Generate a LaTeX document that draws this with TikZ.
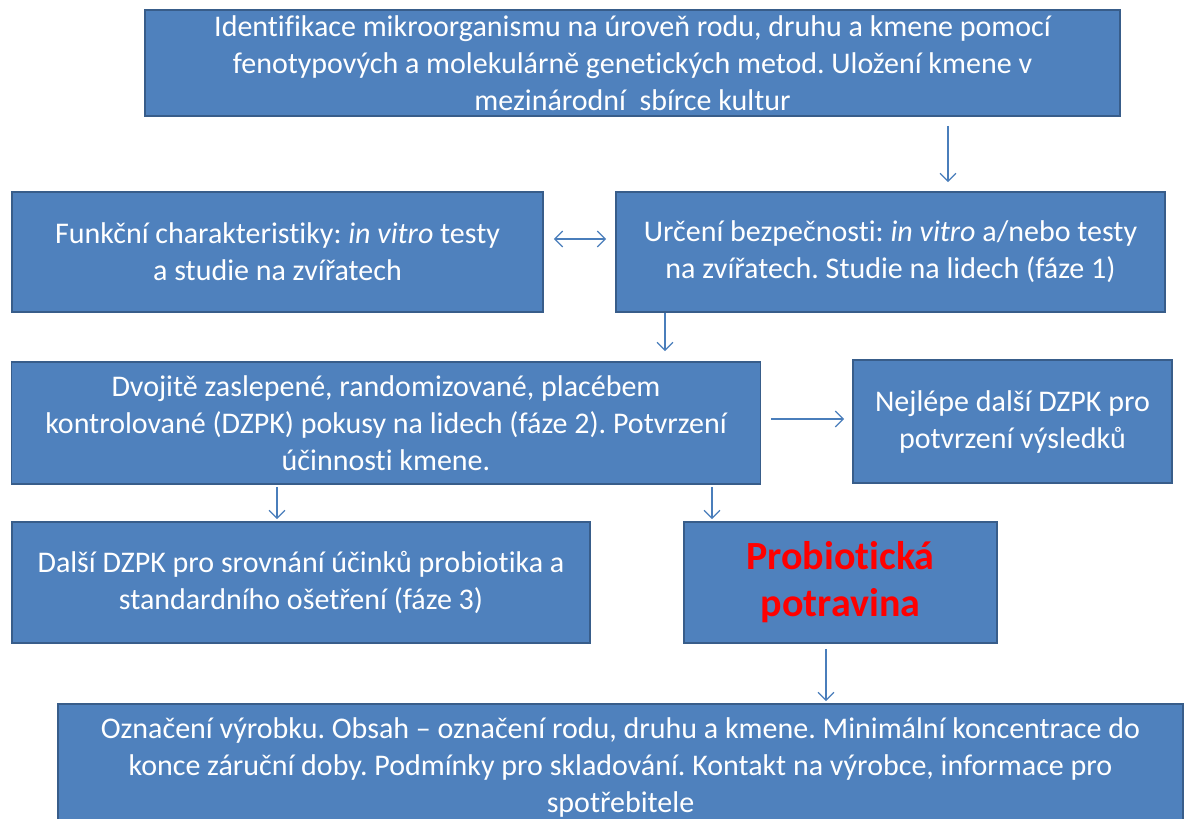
\documentclass[tikz,border=0pt]{standalone}
\usepackage{fontspec}
\setmainfont{Carlito}[Ligatures=NoCommon]
\usetikzlibrary{arrows.meta}
\frenchspacing
\definecolor{boxblue}{HTML}{4F81BD}
\definecolor{boxline}{HTML}{385D8A}
\definecolor{arrblue}{HTML}{4A7EBB}
\definecolor{probred}{HTML}{FF0000}
\tikzset{
  box/.style={draw=boxline,fill=boxblue,line width=1.6pt,text=white,align=center,inner sep=0pt,
    font=\fontsize{30}{37}\selectfont},
  arr/.style={draw=arrblue,line width=1.3pt,-{Straight Barb[length=8pt,width=16pt]}},
  dblarr/.style={draw=arrblue,line width=1.3pt,{Straight Barb[length=8pt,width=16pt]}-{Straight Barb[length=8pt,width=16pt]}}
}
\begin{document}
\begin{tikzpicture}[x=1pt,y=-1pt]
  \useasboundingbox (0,0) rectangle (1187,819);
  \clip (0,0) rectangle (1187,819);

     \path (632.5,63) node[box,minimum width=975,minimum height=106] (1)
       {Identifikace mikroorganismu na úroveň rodu, druhu a kmene pomocí\\
        fenotypových a molekulárně genetických metod. Uložení kmene v\\
        mezinárodní\ \ sbírce kultur};
      \path (277.5,252) node[box,minimum width=531,minimum height=120] (2)
       {Funkční charakteristiky: \emph{in vitro} testy\\ a studie na zvířatech};
      \path (890.5,252) node[box,minimum width=549,minimum height=120] (3)
       {Určení bezpečnosti: \emph{in vitro} a/nebo testy\\ na zvířatech. Studie na lidech (fáze 1)};
      \path (386,423) node[box,minimum width=749,minimum height=122] (4)
       {Dvojitě zaslepené, randomizované, placébem\\
        kontrolované (DZPK) pokusy na lidech (fáze 2). Potvrzení\\
        účinnosti kmene.};
      \path (1012.5,421.5) node[box,minimum width=319,minimum height=123] (5)
       {Nejlépe další DZPK pro\\ potvrzení výsledků};
      \path (301,582.5) node[box,minimum width=578,minimum height=121] (6)
       {Další DZPK pro srovnání účinků probiotika a\\ standardního ošetření (fáze 3)};
      \path (840.5,582.5) node[box,minimum width=313,minimum height=121,text=probred,
        font=\fontsize{40}{47}\selectfont\bfseries] (7)
       {Probiotická\\ potravina};
      \path (620.5,767) node[box,minimum width=1125,minimum height=126] (8)
       {Označení výrobku. Obsah -- označení rodu, druhu a kmene. Minimální koncentrace do\\
        konce záruční doby. Podmínky pro skladování. Kontakt na výrobce, informace pro\\
        spotřebitele};

      \coordinate (c1) at (948,0);
      \coordinate (c3) at (665,0);
      \coordinate (c6) at (277,0);
      \coordinate (c7) at (712,0);
      \coordinate (c8) at (826,0);

      \draw[arr,shorten <=9pt,shorten >=9pt] (1.south -| c1) -- (3.north -| c1);
      \draw[dblarr,shorten <=10pt,shorten >=9pt] ([yshift=13pt]2.east) -- ([yshift=13pt]3.west);
      \draw[arr,shorten >=10pt] (3.south -| c3) -- (4.north -| c3);
      \draw[arr,shorten <=10pt,shorten >=8pt] ([yshift=4pt]4.east) -- ([yshift=4pt]4.east -| 5.west);
      \draw[arr,shorten <=2pt,shorten >=2pt] (4.south -| c6) -- (6.north -| c6);
      \draw[arr,shorten <=2pt,shorten >=2pt] (4.south -| c7) -- (7.north -| c7);
      \draw[arr,shorten <=5pt,shorten >=2pt] (7.south -| c8) -- (8.north -| c8);

\end{tikzpicture}
\end{document}
